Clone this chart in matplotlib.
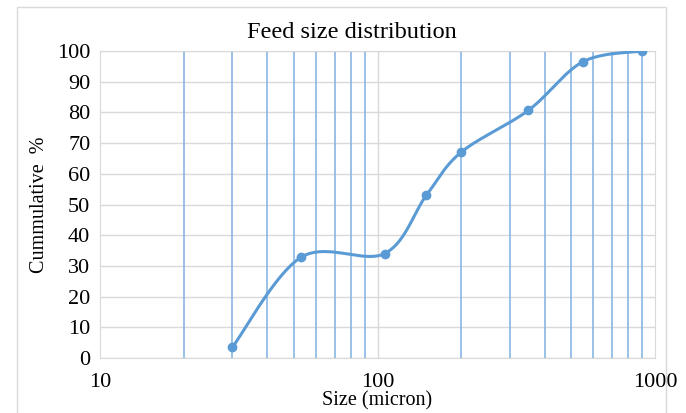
import numpy as np
import matplotlib
matplotlib.use("Agg")
import matplotlib.pyplot as plt
from matplotlib.patches import Rectangle

# data
size_um = [30, 53, 106, 150, 200, 350, 550, 900]
cum_pct = [3.5, 32.8, 34.0, 53.0, 67.0, 80.7, 96.5, 100.0]
yticks = list(range(0, 101, 10))
xticks = [10, 100, 1000]

plt.rcParams['font.family'] = ['Liberation Serif', 'DejaVu Serif']

fig = plt.figure(figsize=(6.86, 4.13), dpi=100)
ax = fig.add_axes([100/686, 1-358/413, 555/686, 307/413])

# Excel-like smoothed line, done in screen-ish units (log x)
sx, sy = 277.5, 3.07
u = np.log10(size_um) * sx
v = np.array(cum_pct) * sy
P = np.column_stack([u, v])
Pext = np.vstack([P[0], P, P[-1]])
cu, cv = [], []
t = np.linspace(0, 1, 40)
for i in range(len(P) - 1):
    p0, p3 = P[i], P[i + 1]
    p1 = p0 + (Pext[i + 2] - Pext[i]) / 6
    p2 = p3 - (Pext[i + 3] - Pext[i + 1]) / 6
    b = (((1-t)**3)[:, None]*p0 + (3*(1-t)**2*t)[:, None]*p1
         + (3*(1-t)*t**2)[:, None]*p2 + (t**3)[:, None]*p3)
    cu.extend(b[:, 0]); cv.extend(b[:, 1])
curve_x = 10 ** (np.array(cu) / sx)
curve_y = np.array(cv) / sy

ax.set_xscale('log')
ax.set_xlim(10, 1000)
ax.set_ylim(0, 100)

# grid lines
for yv in yticks:
    ax.axhline(yv, color='#d9d9d9', lw=1, zorder=1)
ax.axvline(100, color='#d9d9d9', lw=1, zorder=1)
for dec in [10, 100]:
    for k in range(2, 10):
        ax.axvline(dec * k, color='#7eb0e0', lw=1.1, zorder=1)

ax.plot(curve_x, curve_y, color='#5b9bd5', lw=2.2, zorder=3)
ax.plot(size_um, cum_pct, 'o', color='#5b9bd5', ms=6, zorder=4)

ax.set_yticks(yticks)
ax.set_xticks(xticks)
ax.set_xticklabels([str(x) for x in xticks])
ax.minorticks_off()
ax.tick_params(length=0, labelsize=16, pad=7)
ax.tick_params(axis='x', pad=11)
for s in ax.spines.values():
    s.set_color('#d9d9d9')

# title is centred on the chart area, not the plot area
fig.text(352/686, 1 - 33/413, 'Feed size distribution', fontsize=17.5,
         ha='center', va='center')
ax.set_xlabel('Size (micron)', fontsize=14.5, labelpad=-1)
ax.set_ylabel('Cummulative  %', fontsize=14.5, labelpad=6)

fig.patches.append(Rectangle((17/686, -0.01), 649/686, 1 - 7/413 + 0.01,
                             transform=fig.transFigure, fill=False,
                             edgecolor='#d9d9d9', lw=1))

fig.savefig('out.png', dpi=100)
